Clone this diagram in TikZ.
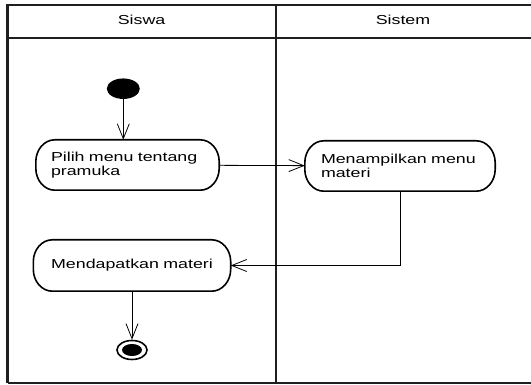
\documentclass[tikz,border=0pt]{standalone}
\usepackage{fontspec}
\setmainfont[FakeStretch=1.37]{Liberation Sans}
\usetikzlibrary{shapes.geometric,arrows.meta,calc}
\newcommand\actframe[1]{%
  \draw[actline] ([xshift=19pt]#1.north west) -- ([xshift=-19pt]#1.north east)
    arc[start angle=90,end angle=0,x radius=19pt,y radius=22pt]
    -- ([yshift=22pt]#1.south east)
    arc[start angle=0,end angle=-90,x radius=19pt,y radius=22pt]
    -- ([xshift=19pt]#1.south west)
    arc[start angle=270,end angle=180,x radius=19pt,y radius=22pt]
    -- ([yshift=-22pt]#1.north west)
    arc[start angle=180,end angle=90,x radius=19pt,y radius=22pt] -- cycle;}
\tikzset{
  frameline/.style={line width=2.2pt, black!88},
  actline/.style={line width=1.6pt, black},
  act/.style={rectangle, draw=none, inner xsep=15pt, inner ysep=0pt, minimum height=50pt,
    font=\fontsize{13pt}{14pt}\selectfont},
  lbl/.style={font=\fontsize{13pt}{14pt}\selectfont, anchor=base},
  flow/.style={line width=0.8pt, -{Straight Barb[length=15pt,width=12pt]}},
}
\begin{document}
\begin{tikzpicture}[x=1pt,y=1pt]
\useasboundingbox (0,0) rectangle (531,385);
% swimlane frame
\draw[frameline] (7.5,1.7) -- (7.5,380) -- (531,380);
\draw[frameline] (7.5,347) -- (531,347);
\draw[frameline] (7.5,1.7) -- (531,1.7);
\draw[frameline] (275.7,1.7) -- (275.7,380);
\node[lbl] (h1) at (141.6,360) {Siswa};
\node[lbl] (h2) at (403,360) {Sistem};
% nodes
\node[ellipse, fill=black, inner sep=0pt, minimum width=33pt, minimum height=20.5pt] (init) at (123.3,296.3) {};
\node[act, text width=153pt, align=left] (a1) at (127.5,220) {Pilih menu tentang\\pramuka};
\node[act, text width=158pt, inner xsep=16pt, align=left] (a2) at (400,219) {Menampilkan menu\\materi};
\node[act, text width=167pt, align=center, minimum height=51pt] (a3) at (132,119.5) {Mendapatkan materi};
\actframe{a1}
\actframe{a2}
\actframe{a3}
\node[ellipse, draw, line width=1.6pt, fill=white, inner sep=0pt, minimum width=30pt, minimum height=19pt] (fin) at (132,35) {};
\fill (fin.center) ellipse [x radius=10pt, y radius=6pt];
% flows
\draw[flow] (init) -- (init |- a1.north);
\draw[flow] (a1) -- (a2);
\draw[flow] (a2.south) |- (a3.east);
\draw[flow] (a3) -- (fin);
\end{tikzpicture}
\end{document}
